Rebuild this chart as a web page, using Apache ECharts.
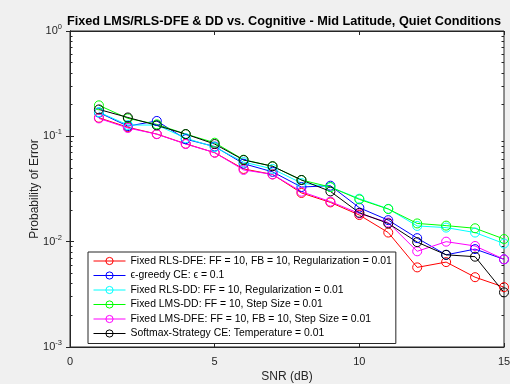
<!DOCTYPE html>
<html>
<head>
<meta charset="utf-8">
<script src="https://cdn.jsdelivr.net/npm/echarts@6/dist/echarts.min.js"></script>
<style>
  html, body { margin: 0; padding: 0; background: #f0f0f0; }
  #chart { width: 510px; height: 384px; }
</style>
</head>
<body>
<div id="chart"></div>
<script>
  // data
  var snr = [1, 2, 3, 4, 5, 6, 7, 8, 9, 10, 11, 12, 13, 14, 15];
  var rlsDfe = [0.150, 0.122, 0.105, 0.085, 0.070, 0.049, 0.0435, 0.029, 0.0236, 0.0179, 0.0122, 0.0057, 0.0064, 0.0046, 0.0037];
  var epsGreedy = [0.168, 0.125, 0.140, 0.094, 0.080, 0.055, 0.046, 0.033, 0.034, 0.021, 0.0160, 0.0108, 0.0075, 0.0085, 0.0068];
  var rlsDd = [0.170, 0.128, 0.128, 0.096, 0.079, 0.057, 0.049, 0.036, 0.033, 0.0256, 0.0205, 0.0141, 0.0136, 0.0122, 0.0096];
  var lmsDd = [0.197, 0.148, 0.130, 0.105, 0.087, 0.060, 0.052, 0.0385, 0.033, 0.0252, 0.0204, 0.0149, 0.0142, 0.0134, 0.0106];
  var lmsDfe = [0.148, 0.120, 0.105, 0.0845, 0.070, 0.048, 0.0435, 0.0298, 0.024, 0.0185, 0.0152, 0.0081, 0.0100, 0.0091, 0.0068];
  var softmax = [0.180, 0.151, 0.127, 0.105, 0.0845, 0.0596, 0.052, 0.0385, 0.030, 0.0188, 0.0149, 0.0099, 0.0075, 0.0072, 0.0033];

  var names = [
    'Fixed RLS-DFE: FF = 10, FB = 10, Regularization = 0.01',
    '\u03f5-greedy CE: \u03f5 = 0.1',
    'Fixed RLS-DD: FF = 10, Regularization = 0.01',
    'Fixed LMS-DD: FF = 10, Step Size = 0.01',
    'Fixed LMS-DFE: FF = 10, FB = 10, Step Size = 0.01',
    'Softmax-Strategy CE: Temperature = 0.01'
  ];
  var values = [rlsDfe, epsGreedy, rlsDd, lmsDd, lmsDfe, softmax];
  var colors = ['#ff0000', '#0000ff', '#00ffff', '#00ff00', '#ff00ff', '#000000'];

  // minor ticks of the log axis (2..9 in each decade)
  var minorTicks = [];
  [0.001, 0.01, 0.1].forEach(function (d) {
    for (var k = 2; k <= 9; k++) minorTicks.push(+(d * k).toPrecision(3));
  });

  var axisColor = '#262626';
  var font = 'Liberation Sans, Arial, sans-serif';

  function pair(v) { return snr.map(function (x, i) { return [x, v[i]]; }); }

  var myChart = echarts.init(document.getElementById('chart'));

  var logAxis = function (pos, labels) {
    return {
      type: 'log', logBase: 10, min: 0.001, max: 1, position: pos,
      axisLine: { show: true, lineStyle: { color: axisColor, width: 1 } },
      axisTick: { inside: true, length: 4, lineStyle: { color: axisColor } },
      splitLine: { show: false },
      axisLabel: labels ? {
        margin: 8, color: axisColor, fontFamily: font,
        formatter: function (v) {
          var e = Math.round(Math.log10(v));
          return '{b|10}{s|' + e + '}';
        },
        rich: {
          b: { fontSize: 11, fontFamily: font, color: axisColor },
          s: { fontSize: 7.5, fontFamily: font, color: axisColor, padding: [0, 0, 8, 0] }
        }
      } : { show: false }
    };
  };

  var minorAxis = function (pos) {
    return {
      type: 'log', logBase: 10, min: 0.001, max: 1, position: pos,
      axisLine: { show: false },
      axisTick: { inside: true, length: 2.5, customValues: minorTicks, lineStyle: { color: axisColor } },
      axisLabel: { show: false },
      splitLine: { show: false }
    };
  };

  var yLeft = logAxis('left', true);
  yLeft.name = 'Probability of Error';
  yLeft.nameLocation = 'middle';
  yLeft.nameGap = 29;
  yLeft.nameMoveOverlap = false;
  yLeft.nameTextStyle = { fontSize: 12, color: axisColor, fontFamily: font };

  var option = {
    backgroundColor: '#f0f0f0',
    animation: false,
    title: {
      text: 'Fixed LMS/RLS-DFE & DD vs. Cognitive - Mid Latitude, Quiet Conditions',
      left: 279, top: 10, textAlign: 'center',
      textStyle: { fontSize: 12.7, fontWeight: 'bold', color: '#000', fontFamily: font }
    },
    grid: {
      left: 70, right: 6, top: 31, bottom: 37,
      outerBoundsMode: 'none',
      show: true, backgroundColor: '#ffffff', borderColor: axisColor, borderWidth: 1
    },
    legend: {
      orient: 'vertical', left: 88, top: 252,
      backgroundColor: '#ffffff', borderColor: axisColor, borderWidth: 1,
      padding: [3, 4, 4, 5],
      itemWidth: 32, itemHeight: 9, itemGap: 2.5,
      lineStyle: { width: 1 },
      itemStyle: { borderWidth: 1 },
      textStyle: { fontSize: 10.4, color: '#000', fontFamily: font, lineHeight: 12 },
      data: names
    },
    xAxis: [
      {
        type: 'value', min: 0, max: 15, interval: 5, position: 'bottom',
        name: 'SNR (dB)', nameLocation: 'middle', nameGap: 24, nameMoveOverlap: false,
        nameTextStyle: { fontSize: 12, color: axisColor, fontFamily: font },
        axisLine: { show: true, lineStyle: { color: axisColor } },
        axisTick: { inside: true, length: 4, lineStyle: { color: axisColor } },
        axisLabel: { margin: 9, fontSize: 11, color: axisColor, fontFamily: font },
        splitLine: { show: false }
      },
      {
        type: 'value', min: 0, max: 15, interval: 5, position: 'top',
        axisLine: { show: true, lineStyle: { color: axisColor } },
        axisTick: { inside: true, length: 4, lineStyle: { color: axisColor } },
        axisLabel: { show: false },
        splitLine: { show: false }
      }
    ],
    yAxis: [yLeft, logAxis('right', false), minorAxis('left'), minorAxis('right')],
    series: names.map(function (n, i) {
      return {
        name: n, type: 'line', data: pair(values[i]),
        symbol: 'circle', symbolSize: 9,
        color: colors[i],
        lineStyle: { color: colors[i], width: 1 },
        itemStyle: { color: 'transparent', borderColor: colors[i], borderWidth: 1 }
      };
    })
  };

  myChart.setOption(option);
</script>
</body>
</html>
